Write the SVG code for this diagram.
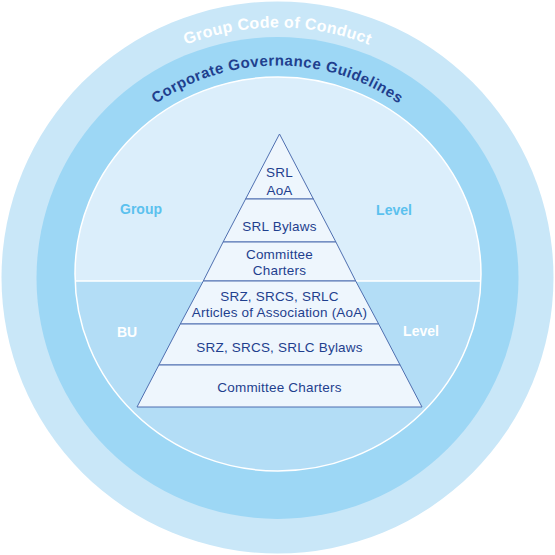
<svg xmlns="http://www.w3.org/2000/svg" width="555" height="555" viewBox="0 0 555 555">
<style>
.ring-outer{fill:#c9e7f8}
.ring-mid{fill:#9dd7f5}
.in-up{fill:#dbeefb}
.in-low{fill:#b3ddf6}
.tier{fill:#eef6fd;stroke:#4f6fb0;stroke-width:1}
.pt{font-family:"Liberation Sans",Arial,sans-serif;font-size:13.5px;fill:#1f3f8e;text-anchor:middle;letter-spacing:0.2px}
.lab{font-family:"Liberation Sans",Arial,sans-serif;font-size:14px;font-weight:bold;text-anchor:middle}
.arc1{font-family:"Liberation Sans",Arial,sans-serif;font-size:16px;font-weight:bold;fill:#ffffff;letter-spacing:0.3px}
.arc2{font-family:"Liberation Sans",Arial,sans-serif;font-size:15px;font-weight:bold;fill:#1f3f8e;letter-spacing:0.5px}
</style>
<defs>
<path id="p1" d="M27.5,277.5 A250,250 0 0 1 527.5,277.5"/>
<path id="p2" d="M65.5,277.5 A212,212 0 0 1 489.5,277.5"/>
<clipPath id="cin"><ellipse cx="278" cy="274" rx="203" ry="197"/></clipPath>
</defs>
<g id="outer-ring">
<circle class="ring-outer" cx="277.5" cy="277.5" r="276"/>
<text class="arc1"><textPath href="#p1" startOffset="50%" text-anchor="middle">Group Code of Conduct</textPath></text>
</g>
<g id="middle-ring">
<circle class="ring-mid" cx="277.5" cy="278" r="241"/>
<text class="arc2"><textPath href="#p2" startOffset="50%" text-anchor="middle">Corporate Governance Guidelines</textPath></text>
</g>
<g id="inner-circle">
<g clip-path="url(#cin)">
<rect class="in-up" x="70" y="70" width="420" height="211"/>
<rect class="in-low" x="70" y="281" width="420" height="200"/>
<line x1="70" y1="281" x2="490" y2="281" stroke="#ffffff" stroke-width="1.5"/>
</g>
<ellipse cx="278" cy="274" rx="203" ry="197" fill="none" stroke="#ffffff" stroke-width="1.5"/>
</g>
<g id="group-level">
<text class="lab" x="141" y="214" fill="#5bc1ee">Group</text>
<text class="lab" x="394" y="215" fill="#5bc1ee">Level</text>
</g>
<g id="bu-level">
<text class="lab" x="127" y="337" fill="#ffffff">BU</text>
<text class="lab" x="421" y="336" fill="#ffffff">Level</text>
</g>
<g id="pyramid">
<g id="tier1"><polygon class="tier" points="279.5,134 313.4,199 245.6,199"/>
<text class="pt" x="279.5" y="177">SRL</text><text class="pt" x="279.5" y="195">AoA</text></g>
<g id="tier2"><polygon class="tier" points="245.6,199 313.4,199 335.9,242 223.1,242"/>
<text class="pt" x="279.5" y="231">SRL Bylaws</text></g>
<g id="tier3"><polygon class="tier" points="223.1,242 335.9,242 355.7,281 203.3,281"/>
<text class="pt" x="279.5" y="259">Committee</text><text class="pt" x="279.5" y="275">Charters</text></g>
<g id="tier4"><polygon class="tier" points="203.3,281 355.7,281 378.7,324 180.3,324"/>
<text class="pt" x="279.5" y="301">SRZ, SRCS, SRLC</text><text class="pt" x="279.5" y="317">Articles of Association (AoA)</text></g>
<g id="tier5"><polygon class="tier" points="180.3,324 378.7,324 400.1,365 158.9,365"/>
<text class="pt" x="279.5" y="352">SRZ, SRCS, SRLC Bylaws</text></g>
<g id="tier6"><polygon class="tier" points="158.9,365 400.1,365 422,407 137,407"/>
<text class="pt" x="279.5" y="392">Committee Charters</text></g>
</g>
<g id="connectors"></g>
</svg>
